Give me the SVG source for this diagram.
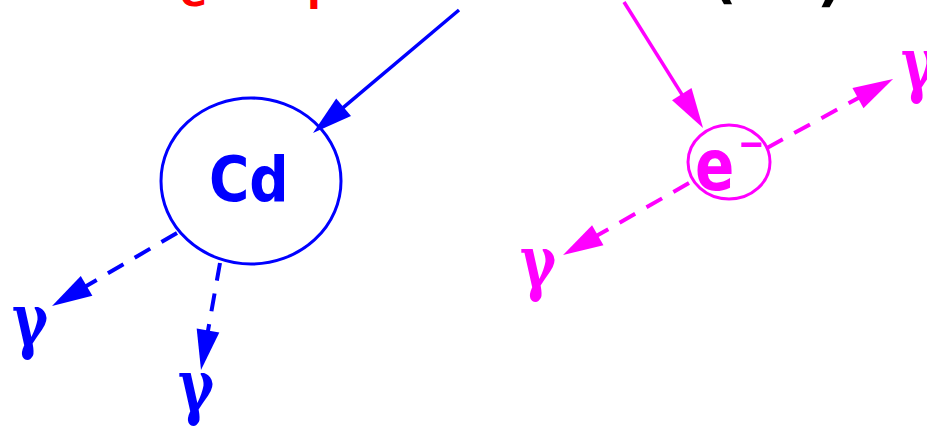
<svg xmlns="http://www.w3.org/2000/svg" width="927" height="427" viewBox="0 0 927 427">
  <style>
    .blue { fill: none; stroke: #0000ff; }
    .mag { fill: none; stroke: #ff00ff; }
    .solid { stroke-width: 3.5; }
    .dash { stroke-width: 4; stroke-dasharray: 18 13; }
    .ring { stroke-width: 3; }
    .lbl { font-family: "DejaVu Sans", "Liberation Sans", sans-serif; font-weight: bold; }
    .gam { font-family: "DejaVu Serif", "Liberation Serif", serif; font-weight: bold; font-size: 72px; }
  </style>
  <defs>
    <marker id="ahBlue" markerUnits="userSpaceOnUse" viewBox="-42 -13 44 26" markerWidth="44" markerHeight="26" refX="-20" refY="0" orient="auto">
      <path d="M0,0 L-40,-11.5 L-40,11.5 Z" fill="#0000ff"/>
    </marker>
    <marker id="ahMag" markerUnits="userSpaceOnUse" viewBox="-42 -13 44 26" markerWidth="44" markerHeight="26" refX="-20" refY="0" orient="auto">
      <path d="M0,0 L-40,-11.5 L-40,11.5 Z" fill="#ff00ff"/>
    </marker>
  </defs>

  <g id="top-labels">
    <text class="lbl" fill="#ff0000" font-size="40"><tspan x="180" y="6">e</tspan><tspan x="307" y="9">l</tspan></text>
    <text class="lbl" fill="#000000" font-size="56"><tspan x="711" y="-3">(</tspan><tspan x="817" y="0">)</tspan></text>
  </g>

  <g id="connectors">
    <line class="blue solid" x1="459" y1="10" x2="328.3" y2="120.1" marker-end="url(#ahBlue)"/>
    <line class="blue dash" x1="177" y1="233" x2="69.3" y2="295.9" marker-end="url(#ahBlue)"/>
    <line class="blue dash" x1="220" y1="263" x2="204.5" y2="350.3" marker-end="url(#ahBlue)"/>
    <line class="mag solid" x1="624" y1="2" x2="692.4" y2="111.1" marker-end="url(#ahMag)"/>
    <line class="mag dash" x1="767" y1="148" x2="875.5" y2="88.6" marker-end="url(#ahMag)"/>
    <line class="mag dash" x1="689" y1="183" x2="580.4" y2="245.1" marker-end="url(#ahMag)"/>
  </g>

  <g id="node-cd">
    <ellipse class="blue ring" cx="251" cy="181" rx="90" ry="83"/>
    <text class="lbl" fill="#0000ff" font-size="55" transform="translate(209,201) scale(1,1.13)">Cd</text>
  </g>

  <g id="node-electron">
    <ellipse class="mag ring" cx="729" cy="162" rx="41" ry="37"/>
    <text class="lbl" fill="#ff00ff" font-size="58" transform="translate(695,190) scale(1,1.22)">e<tspan x="43" y="-27" font-size="32">−</tspan></text>
  </g>

  <g id="gamma-1"><text class="gam" fill="#0000ff" transform="translate(12,345) scale(0.76,1)">γ</text></g>
  <g id="gamma-2"><text class="gam" fill="#0000ff" transform="translate(178,411) scale(0.76,1)">γ</text></g>
  <g id="gamma-3"><text class="gam" fill="#ff00ff" transform="translate(520,287) scale(0.76,1)">γ</text></g>
  <g id="gamma-4"><text class="gam" fill="#ff00ff" transform="translate(901,89) scale(0.76,1)">γ</text></g>
</svg>
